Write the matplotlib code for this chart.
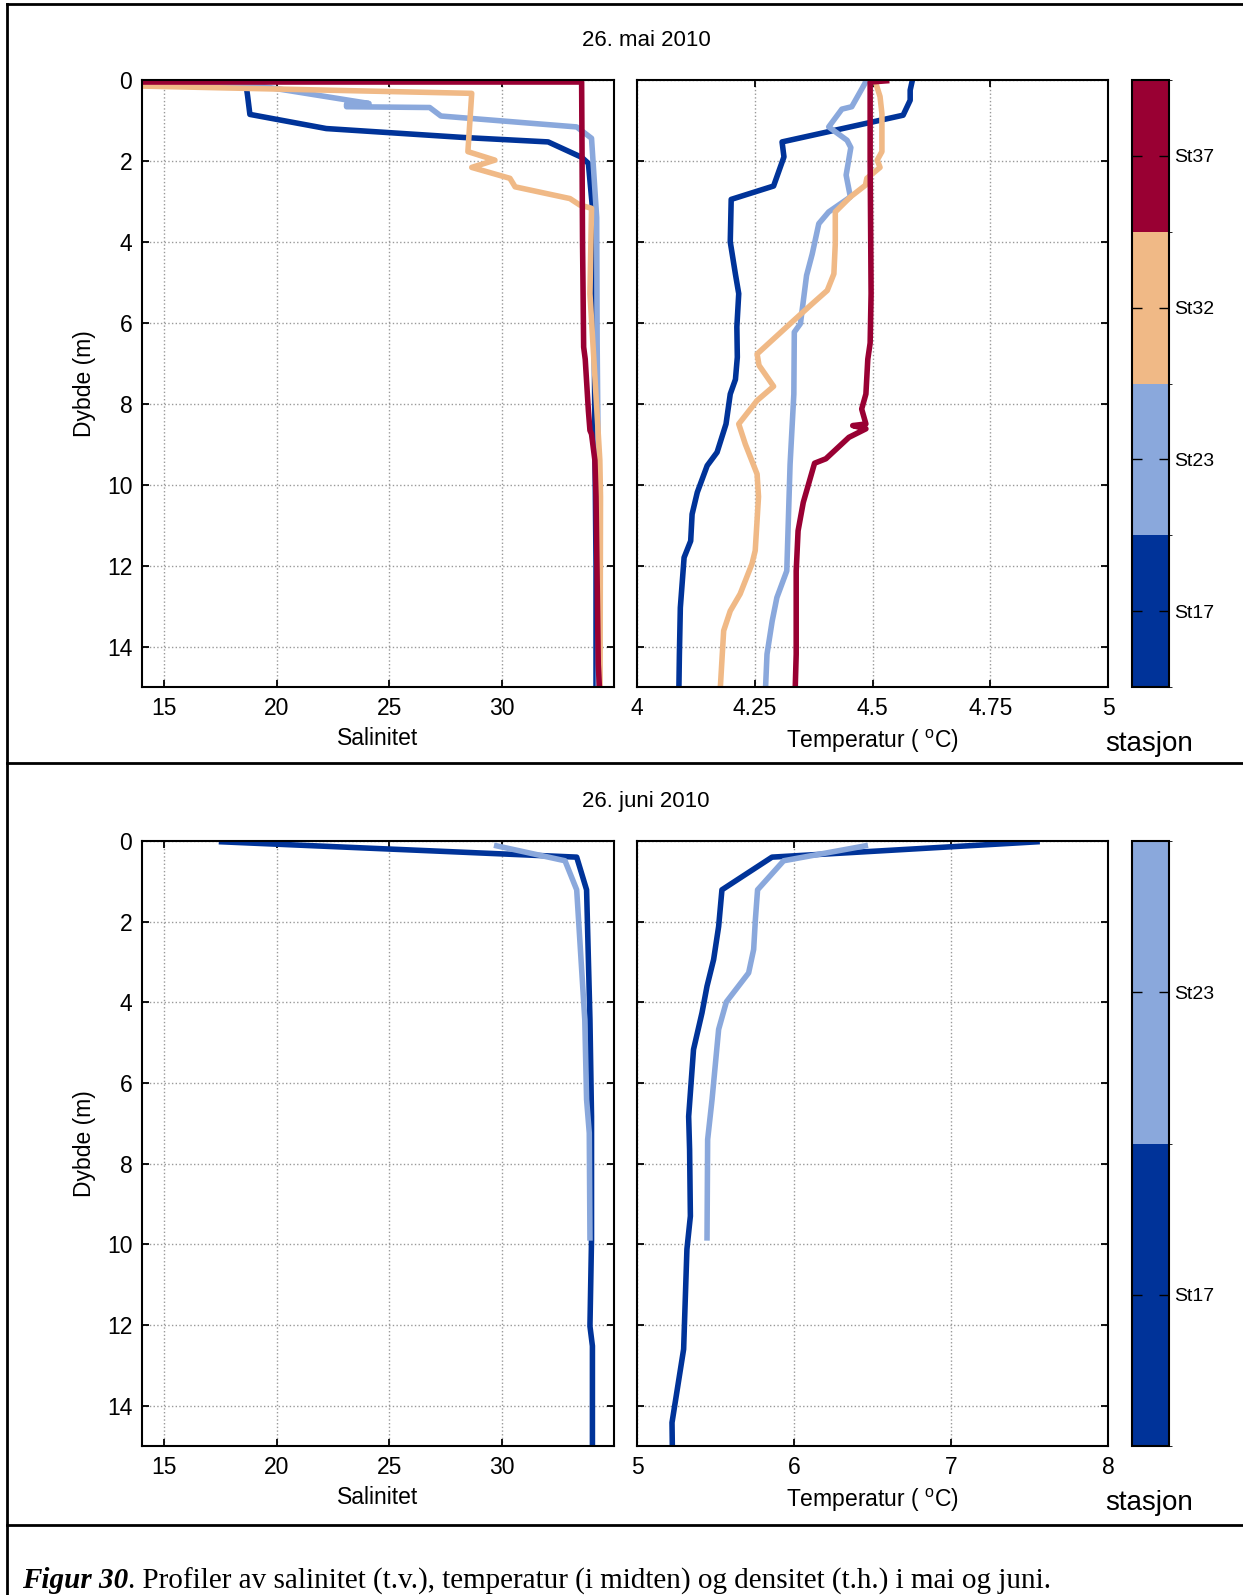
import matplotlib
matplotlib.use("Agg")
import matplotlib.pyplot as plt
from matplotlib.colors import ListedColormap, BoundaryNorm
from matplotlib.cm import ScalarMappable
from matplotlib.lines import Line2D

plt.rcParams["font.family"] = ["Liberation Sans", "DejaVu Sans"]
plt.rcParams["mathtext.fontset"] = "custom"
plt.rcParams["mathtext.rm"] = "Liberation Sans"
plt.rcParams["mathtext.it"] = "Liberation Sans"

# Station colours (same as the colour bar)
stations_mai = ["St17", "St23", "St32", "St37"]
stations_juni = ["St17", "St23"]
farger = {"St17": "#003399", "St23": "#8aa8dc", "St32": "#f0b986", "St37": "#990033"}

# ---- 26. mai 2010: salinity profiles (depth m, salinity) ----
sal_mai_st17_d = [0.0, 0.4, 0.85, 1.2, 1.42, 1.53, 1.91, 2.06, 3.4, 6.0, 9.0, 12.0, 15.0]
sal_mai_st17_s = [18.6, 18.7, 18.8, 22.2, 28.3, 32.07, 33.56, 33.86, 34.08, 34.12, 34.15, 34.2, 34.2]

sal_mai_st23_d = [0.05, 0.1, 0.58, 0.6, 0.66, 0.68, 0.89, 1.16, 1.44, 3.4, 6.5, 9.5, 15.0]
sal_mai_st23_s = [14.0, 18.7, 24.1, 23.1, 23.1, 26.8, 27.3, 33.34, 34.0, 34.23, 34.25, 34.3, 34.3]

sal_mai_st32_d = [0.15, 0.33, 1.77, 1.98, 2.16, 2.43, 2.64, 2.93, 3.09, 3.17, 5.28, 9.4, 10.3, 15.0]
sal_mai_st32_s = [14.0, 28.67, 28.5, 29.7, 28.67, 30.37, 30.6, 33.04, 33.48, 34.0, 33.93, 34.37, 34.4, 34.38]

sal_mai_st37_d = [0.05, 0.05, 4.0, 6.6, 6.9, 8.17, 8.66, 8.75, 9.4, 10.3, 14.44, 15.0]
sal_mai_st37_s = [14.0, 33.56, 33.6, 33.65, 33.72, 33.86, 33.93, 34.0, 34.15, 34.2, 34.3, 34.35]

# ---- 26. mai 2010: temperature profiles (depth m, deg C) ----
temp_mai_st17_d = [0.04, 0.25, 0.5, 0.87, 1.53, 1.9, 2.62, 2.95, 4.0, 4.8, 5.28, 6.1, 6.85,
                   7.4, 7.76, 8.5, 9.2, 9.53, 10.19, 10.73, 11.39, 11.8, 13.04, 14.2, 15.0]
temp_mai_st17_t = [4.584, 4.58, 4.58, 4.565, 4.308, 4.312, 4.29, 4.2, 4.198, 4.209, 4.216, 4.212, 4.213,
                   4.209, 4.198, 4.189, 4.17, 4.149, 4.128, 4.117, 4.114, 4.1, 4.092, 4.09, 4.089]

temp_mai_st23_d = [0.0, 0.66, 0.72, 1.16, 1.49, 1.67, 2.35, 2.89, 3.26, 3.55, 4.3, 4.83, 6.02,
                   6.23, 7.76, 9.5, 12.13, 12.79, 13.37, 14.19, 15.0]
temp_mai_st23_t = [4.488, 4.456, 4.435, 4.407, 4.446, 4.454, 4.444, 4.453, 4.407, 4.386, 4.372, 4.36, 4.347,
                   4.334, 4.333, 4.325, 4.318, 4.297, 4.287, 4.276, 4.273]

temp_mai_st32_d = [0.04, 0.41, 0.83, 1.77, 1.98, 2.16, 2.43, 2.6, 2.89, 3.26, 4.04, 4.79, 5.2, 5.53,
                   5.94, 6.77, 7.05, 7.57, 7.92, 8.5, 9.0, 9.74, 10.3, 11.63, 11.96, 12.7, 13.12, 13.61, 15.0]
temp_mai_st32_t = [4.506, 4.516, 4.52, 4.52, 4.51, 4.516, 4.488, 4.485, 4.453, 4.421, 4.421, 4.418, 4.404, 4.372,
                   4.333, 4.255, 4.259, 4.29, 4.255, 4.216, 4.23, 4.255, 4.258, 4.251, 4.244, 4.219, 4.198, 4.184, 4.177]

temp_mai_st37_d = [0.02, 0.05, 1.98, 5.28, 6.5, 6.9, 7.76, 8.13, 8.5, 8.54, 8.62, 8.83, 9.36,
                   9.47, 10.44, 11.14, 12.13, 14.19, 15.0]
temp_mai_st37_t = [4.53, 4.495, 4.495, 4.497, 4.495, 4.49, 4.486, 4.477, 4.486, 4.458, 4.486, 4.45, 4.401,
                   4.377, 4.353, 4.342, 4.338, 4.338, 4.336]

# ---- 26. juni 2010 ----
sal_juni_st17_d = [0.02, 0.4, 1.21, 4.43, 6.83, 9.88, 12.03, 12.52, 15.0]
sal_juni_st17_s = [17.54, 33.34, 33.78, 33.93, 34.0, 34.0, 33.93, 34.04, 34.04]

sal_juni_st23_d = [0.12, 0.49, 1.21, 4.43, 6.41, 7.24, 9.84]
sal_juni_st23_s = [29.78, 32.82, 33.34, 33.7, 33.78, 33.9, 33.93]

temp_juni_st17_d = [0.02, 0.4, 1.21, 2.12, 2.94, 3.6, 4.26, 5.17, 6.83, 7.65, 9.3, 10.12, 12.6, 14.42, 15.0]
temp_juni_st17_t = [7.548, 5.86, 5.541, 5.52, 5.488, 5.446, 5.414, 5.36, 5.329, 5.335, 5.34, 5.318, 5.297, 5.223, 5.225]

temp_juni_st23_d = [0.12, 0.49, 1.21, 1.95, 2.69, 3.27, 3.99, 4.67, 6.41, 7.4, 9.84]
temp_juni_st23_t = [6.454, 5.934, 5.768, 5.754, 5.743, 5.711, 5.569, 5.52, 5.478, 5.45, 5.446]

sal_ticks = [15, 20, 25, 30]
temp_mai_ticks = [4, 4.25, 4.5, 4.75, 5]
temp_mai_labels = ["4", "4.25", "4.5", "4.75", "5"]
temp_juni_ticks = [5, 6, 7, 8]
dybde_ticks = list(range(0, 15, 2))

W, H = 1243, 1595
fig = plt.figure(figsize=(W / 100, H / 100), dpi=100)

FS = 16.5  # tick and axis label size


def box(x0, y0, x1, y1):
    """Pixel box (top-left origin) -> figure fraction rect."""
    return [x0 / W, 1 - y1 / H, (x1 - x0) / W, (y1 - y0) / H]


def style(ax, xlim, xticks, xlabels=None, ylabels=True):
    ax.set_xlim(xlim)
    ax.set_ylim(15, 0)
    ax.set_xticks(xticks)
    if xlabels is not None:
        ax.set_xticklabels(xlabels)
    ax.set_yticks(dybde_ticks)
    if not ylabels:
        ax.set_yticklabels([])
    ax.grid(True, color="#999999", linestyle=":", linewidth=1.0)
    ax.tick_params(direction="in", top=True, right=True, length=5, width=1.3,
                   labelsize=FS, pad=7)
    for sp in ax.spines.values():
        sp.set_linewidth(1.5)


def colorbar(cax, names):
    cmap = ListedColormap([farger[n] for n in names])
    norm = BoundaryNorm(range(len(names) + 1), cmap.N)
    cb = fig.colorbar(ScalarMappable(norm=norm, cmap=cmap), cax=cax,
                      ticks=[i + 0.5 for i in range(len(names))])
    cb.set_ticklabels(names)
    cb.outline.set_linewidth(1.5)
    cax.tick_params(direction="in", left=True, right=True, length=7, width=1.0,
                    labelsize=14, pad=4)


def draw_panel(y0, y1, sal, temp, names, tlim, tticks, tlabels, tittel, ty):
    ax1 = fig.add_axes(box(142, y0, 614, y1))
    ax2 = fig.add_axes(box(637, y0, 1108, y1))
    cax = fig.add_axes(box(1132, y0, 1169, y1))
    for (d, s), n in zip(sal, names):
        ax1.plot(s, d, color=farger[n], lw=4.0, solid_joinstyle="round")
    for (d, t), n in zip(temp, names):
        ax2.plot(t, d, color=farger[n], lw=4.0, solid_joinstyle="round")
    style(ax1, (14, 35), sal_ticks)
    style(ax2, tlim, tticks, tlabels, ylabels=False)
    ax1.set_xlabel("Salinitet", fontsize=FS, labelpad=5)
    ax2.set_xlabel(r"Temperatur ( $^{\mathrm{o}}$C)", fontsize=FS, labelpad=6)
    ax1.set_ylabel("Dybde (m)", fontsize=FS, labelpad=8)
    colorbar(cax, names)
    fig.text(646 / W, 1 - ty / H, tittel, ha="center", va="center", fontsize=16)
    fig.text(1149 / W, 1 - (y1 + 57) / H, "stasjon", ha="center", va="center", fontsize=20)


draw_panel(80, 687,
           [(sal_mai_st17_d, sal_mai_st17_s), (sal_mai_st23_d, sal_mai_st23_s),
            (sal_mai_st32_d, sal_mai_st32_s), (sal_mai_st37_d, sal_mai_st37_s)],
           [(temp_mai_st17_d, temp_mai_st17_t), (temp_mai_st23_d, temp_mai_st23_t),
            (temp_mai_st32_d, temp_mai_st32_t), (temp_mai_st37_d, temp_mai_st37_t)],
           stations_mai, (4, 5), temp_mai_ticks, temp_mai_labels, "26. mai 2010", 41)

draw_panel(841, 1446,
           [(sal_juni_st17_d, sal_juni_st17_s), (sal_juni_st23_d, sal_juni_st23_s)],
           [(temp_juni_st17_d, temp_juni_st17_t), (temp_juni_st23_d, temp_juni_st23_t)],
           stations_juni, (5, 8), temp_juni_ticks, None, "26. juni 2010", 802)

# frame and separators
for xs, ys in [([7, W], [4, 4]), ([7, 7], [4, H]), ([7, W], [763, 763]), ([7, W], [1525, 1525])]:
    fig.add_artist(Line2D([x / W for x in xs], [1 - y / H for y in ys],
                          transform=fig.transFigure, color="black", lw=2.0))

# caption
cap_y = 1 - 1581 / H
t1 = fig.text(22 / W, cap_y, "Figur 30", family="Liberation Serif", weight="bold",
              style="italic", fontsize=21, va="center")
fig.canvas.draw()
bb = t1.get_window_extent(fig.canvas.get_renderer())
fig.text(bb.x1 / W, cap_y,
         ". Profiler av salinitet (t.v.), temperatur (i midten) og densitet (t.h.) i mai og juni.",
         family="Liberation Serif", fontsize=21, va="center")

fig.savefig("out.png", dpi=100)
